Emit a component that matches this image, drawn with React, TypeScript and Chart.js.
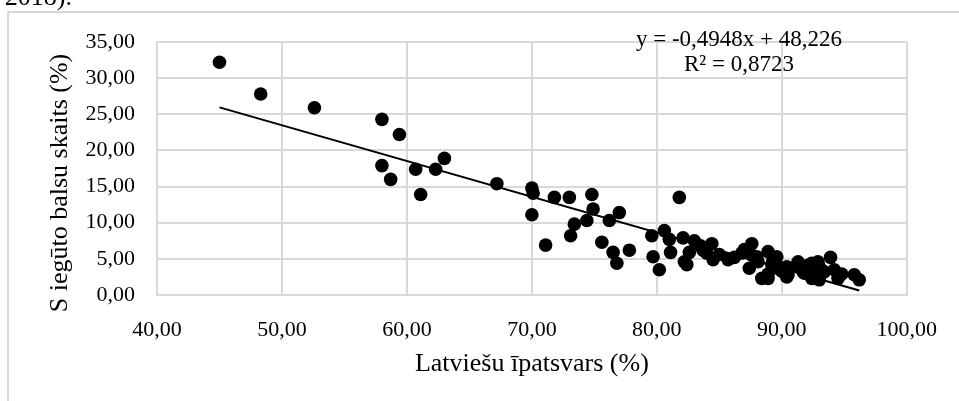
import React, { useEffect, useRef } from "react";
import { Chart, registerables } from "chart.js";

Chart.register(...registerables);

// Scatter data: Latviešu īpatsvars (%) vs S iegūto balsu skaits (%)
const latviesuShare: number[] = [
  45.0, 48.3, 52.6, 58.0, 59.4, 58.0, 58.7, 60.7, 61.1, 62.3,
  63.0, 67.2, 70.0, 70.1, 70.0, 71.1, 71.8, 73.0, 73.4, 73.1,
  74.8, 74.9, 74.4, 75.6, 76.2, 77.0, 76.5, 76.8, 77.8, 79.6,
  79.7, 80.2, 80.6, 81.0, 81.1, 81.8, 82.1, 83.0, 82.6, 82.2,
  82.4, 83.7, 84.4, 84.0, 84.5, 85.7, 86.2, 86.8, 87.0, 87.6,
  87.4, 87.6, 88.0, 88.1, 88.9, 89.6, 88.4, 88.9, 88.9, 89.9,
  89.7, 89.2, 90.4, 90.4, 90.5, 91.2, 91.3, 91.7, 91.8, 92.4,
  92.4, 92.1, 92.4, 92.9, 93.0, 93.4, 93.0, 93.9, 94.2, 94.5,
  94.8, 95.8, 96.2, 90.0, 89.3, 85.0, 83.5, 93.2,
];
const sVotes: number[] = [
  32.2, 27.8, 25.9, 24.3, 22.2, 17.9, 16.0, 17.4, 13.9, 17.4,
  18.9, 15.4, 14.8, 14.1, 11.1, 6.9, 13.5, 13.5, 9.8, 8.2,
  13.9, 11.9, 10.3, 7.3, 10.3, 11.4, 5.9, 4.4, 6.2, 8.2,
  5.3, 3.5, 8.9, 7.7, 5.9, 13.5, 7.9, 7.5, 5.9, 4.6,
  4.2, 6.2, 7.1, 5.8, 4.9, 4.9, 5.2, 5.8, 6.3, 7.1,
  3.7, 5.5, 5.3, 4.6, 6.0, 5.3, 2.3, 2.3, 2.9, 3.8,
  3.7, 4.2, 2.5, 3.9, 2.8, 4.1, 4.6, 3.2, 3.0, 4.4,
  2.3, 4.1, 2.8, 4.6, 3.9, 3.2, 2.1, 5.2, 3.5, 2.3,
  2.9, 2.8, 2.1, 3.3, 4.8, 5.6, 6.8, 3.3,
];

// Linear trend line coefficients
const trendSlope = -0.4948;
const trendIntercept = 48.226;
const equationText = "y = -0,4948x + 48,226";
const r2Text = "R² = 0,8723";

const xTitle = "Latviešu īpatsvars (%)";
const yTitle = "S iegūto balsu skaits (%)";
const aboveText = "2018).";

const xMin = 40, xMax = 100, xStep = 10;
const yMin = 0, yMax = 35, yStep = 5;

const FONT = "'Liberation Serif', 'Times New Roman', serif";

const fmt = (v: number) => v.toFixed(2).replace(".", ",");

export default function App() {
  const ref = useRef<HTMLCanvasElement | null>(null);

  useEffect(() => {
    if (!ref.current) return;
    const points = latviesuShare.map((x, i) => ({ x, y: sVotes[i] }));
    const tx0 = Math.min(...latviesuShare);
    const tx1 = Math.max(...latviesuShare);
    const trend = [tx0, tx1].map((x) => ({ x, y: trendSlope * x + trendIntercept }));

    const decor = {
      id: "decor",
      beforeDraw(chart: any) {
        const ctx = chart.ctx;
        ctx.save();
        ctx.strokeStyle = "#d9d9d9";
        ctx.lineWidth = 2;
        ctx.beginPath();
        ctx.moveTo(8, 410);
        ctx.lineTo(8, 12);
        ctx.lineTo(970, 12);
        ctx.stroke();
        ctx.restore();
      },
      afterDraw(chart: any) {
        const ctx = chart.ctx;
        const ca = chart.chartArea;
        ctx.save();
        ctx.fillStyle = "#000";
        // text above chart (cut off)
        ctx.font = `26px ${FONT}`;
        ctx.textAlign = "right";
        ctx.textBaseline = "alphabetic";
        ctx.fillText(aboveText, 72, 5);
        // x title
        ctx.font = `26px ${FONT}`;
        ctx.textAlign = "center";
        ctx.textBaseline = "middle";
        ctx.fillText(xTitle, (ca.left + ca.right) / 2, 364);
        // y title
        ctx.save();
        ctx.translate(60, 183);
        ctx.rotate(-Math.PI / 2);
        ctx.fillText(yTitle, 0, 0);
        ctx.restore();
        // equation
        ctx.font = `23px ${FONT}`;
        ctx.textAlign = "center";
        ctx.fillText(equationText, 739, 40);
        ctx.fillText(r2Text, 739, 65);
        ctx.restore();
      },
    };

    const chart = new Chart(ref.current, {
      type: "scatter",
      data: {
        datasets: [
          {
            type: "scatter",
            data: points,
            backgroundColor: "#000",
            borderColor: "#000",
            pointRadius: 6.8,
            pointBorderWidth: 0,
            order: 1,
          },
          {
            type: "line",
            data: trend,
            borderColor: "#000",
            borderWidth: 2,
            pointRadius: 0,
            fill: false,
            order: 0,
          } as any,
        ],
      },
      options: {
        responsive: false,
        animation: false,
        layout: { padding: { left: 0, right: 52, top: 42, bottom: 0 } },
        plugins: { legend: { display: false }, tooltip: { enabled: false } },
        scales: {
          x: {
            type: "linear",
            min: xMin,
            max: xMax,
            ticks: {
              stepSize: xStep,
              callback: (v: any) => fmt(Number(v)),
              font: { family: FONT, size: 22 },
              color: "#000",
              padding: 22,
              maxRotation: 0,
            },
            grid: { color: "#d9d9d9", lineWidth: 2, drawTicks: false },
            border: { color: "#d9d9d9", width: 2 },
            afterFit: (s: any) => {
              s.height = 106;
            },
          },
          y: {
            type: "linear",
            min: yMin,
            max: yMax,
            ticks: {
              stepSize: yStep,
              callback: (v: any) => fmt(Number(v)),
              font: { family: FONT, size: 22 },
              color: "#000",
              padding: 22,
            },
            grid: { color: "#d9d9d9", lineWidth: 2, drawTicks: false },
            border: { color: "#d9d9d9", width: 2 },
            afterFit: (s: any) => {
              s.width = 157;
            },
          },
        },
      },
      plugins: [decor],
    });
    return () => chart.destroy();
  }, []);

  return (
    <div style={{ position: "fixed", left: 0, top: 0, width: 959, height: 401, background: "#fff" }}>
      <canvas ref={ref} width={959} height={401} style={{ display: "block" }} />
    </div>
  );
}
